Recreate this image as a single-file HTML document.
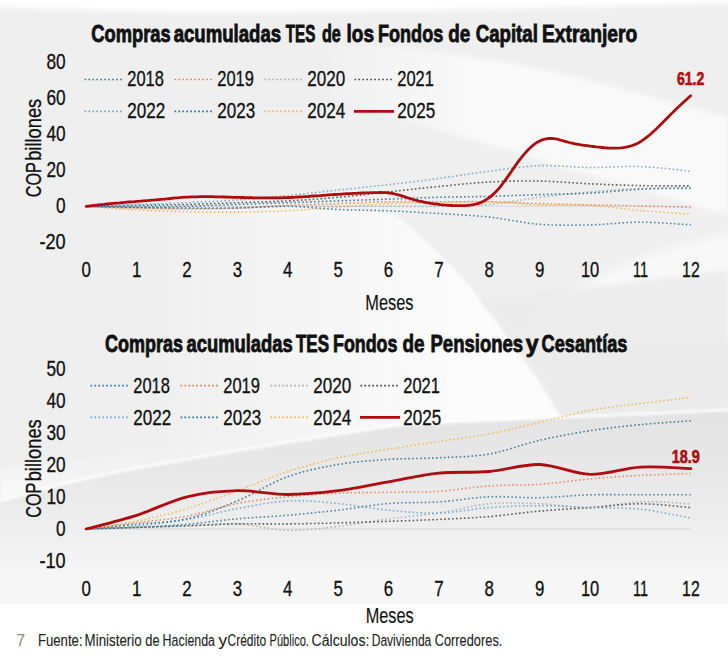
<!DOCTYPE html>
<html><head><meta charset="utf-8"><style>
html,body{margin:0;padding:0;background:#fff;width:728px;height:660px;overflow:hidden}
svg{display:block}
text{font-family:"Liberation Sans", sans-serif}
</style></head><body>
<svg width="728" height="660" viewBox="0 0 728 660">
<rect x="0" y="0" width="728" height="660" fill="#ffffff"/>
<defs>
<filter id="bl8" x="-20%" y="-20%" width="140%" height="140%"><feGaussianBlur stdDeviation="8"/></filter><filter id="bl3" x="-20%" y="-20%" width="140%" height="140%"><feGaussianBlur stdDeviation="2.5"/></filter><filter id="bl5" x="-20%" y="-20%" width="140%" height="140%"><feGaussianBlur stdDeviation="5"/></filter><filter id="bl1" x="-5%" y="-50%" width="110%" height="200%"><feGaussianBlur stdDeviation="0.8"/></filter>
<linearGradient id="gw1" gradientUnits="userSpaceOnUse" x1="300" y1="0" x2="480" y2="0"><stop offset="0" stop-color="#fff" stop-opacity="0"/><stop offset="1" stop-color="#fff" stop-opacity="0.65"/></linearGradient>
<linearGradient id="gabove" gradientUnits="userSpaceOnUse" x1="0" y1="500" x2="30" y2="380"><stop offset="0" stop-color="#fff" stop-opacity="0.7"/><stop offset="0.35" stop-color="#fff" stop-opacity="0.25"/><stop offset="1" stop-color="#fff" stop-opacity="0"/></linearGradient>
<linearGradient id="gtop" x1="0" y1="0" x2="0" y2="1"><stop offset="0" stop-color="#fff"/><stop offset="1" stop-color="#fff" stop-opacity="0"/></linearGradient>
<linearGradient id="gsw" gradientUnits="userSpaceOnUse" x1="0" y1="420" x2="0" y2="604"><stop offset="0" stop-color="#e4e4e4"/><stop offset="0.45" stop-color="#ebebeb"/><stop offset="0.72" stop-color="#f2f2f2"/><stop offset="0.85" stop-color="#f7f7f7"/><stop offset="1" stop-color="#f6f6f6"/></linearGradient>
<linearGradient id="gwedge" gradientUnits="userSpaceOnUse" x1="150" y1="0" x2="470" y2="0"><stop offset="0" stop-color="#fff" stop-opacity="0"/><stop offset="1" stop-color="#fff" stop-opacity="0.8"/></linearGradient>
</defs>
<rect x="0" y="0" width="728" height="604" fill="#efefef"/>
<path d="M-10,-10 L738,-10 L738,3 C600,6 350,14 180,12 C100,11 40,8 -10,7 Z" fill="#fff" filter="url(#bl3)"/>
<path d="M330,44 C420,50 480,56 540,69 C600,82 660,100 728,117 L728,215 C600,180 450,130 330,100 Z" fill="url(#gw1)" filter="url(#bl3)"/>
<path d="M515,340 C560,290 630,252 740,232 L740,340 Z" fill="#fff" opacity="0.6" filter="url(#bl5)"/>
<path d="M150,200 C250,200 330,205 395,215 C440,250 470,285 480,300 C500,325 545,385 563,420 C450,430 300,460 150,490 Z" fill="url(#gwedge)" filter="url(#bl1)"/>
<path d="M563,420 C545,385 500,325 480,300 C560,290 650,280 728,270 L728,430 Z" fill="#ebebeb" opacity="0.8" filter="url(#bl3)"/>
<path d="M0,501 C60,484 120,470 160,464 C230,452 320,436 400,425 C480,420 600,416 728,410 L728,380 L0,470 Z" fill="url(#gabove)" filter="url(#bl3)"/>
<path d="M0,501 C60,484 120,470 160,464 C230,452 320,436 400,425 C480,420 600,416 728,410 L728,604 L0,604 Z" fill="url(#gsw)"/>
<path d="M0,501 C60,484 120,470 160,464 C230,452 320,436 400,425 C480,420 600,416 728,410" fill="none" stroke="#fff" stroke-width="3" opacity="0.8" filter="url(#bl1)"/>
<text x="91.3" y="41.8" font-size="23.8" text-anchor="start" font-weight="bold" fill="#111" stroke="#111" stroke-width="0.85" textLength="79.4" lengthAdjust="spacingAndGlyphs" >Compras</text>
<text x="173.7" y="41.8" font-size="23.8" text-anchor="start" font-weight="bold" fill="#111" stroke="#111" stroke-width="0.85" textLength="107.41" lengthAdjust="spacingAndGlyphs" >acumuladas</text>
<text x="285.7" y="41.8" font-size="23.8" text-anchor="start" font-weight="bold" fill="#111" stroke="#111" stroke-width="0.85" textLength="29.62" lengthAdjust="spacingAndGlyphs" >TES</text>
<text x="322.0" y="41.8" font-size="23.8" text-anchor="start" font-weight="bold" fill="#111" stroke="#111" stroke-width="0.85" textLength="18.82" lengthAdjust="spacingAndGlyphs" >de</text>
<text x="346.5" y="41.8" font-size="23.8" text-anchor="start" font-weight="bold" fill="#111" stroke="#111" stroke-width="0.85" textLength="27.46" lengthAdjust="spacingAndGlyphs" >los</text>
<text x="378.0" y="41.8" font-size="23.8" text-anchor="start" font-weight="bold" fill="#111" stroke="#111" stroke-width="0.85" textLength="65.22" lengthAdjust="spacingAndGlyphs" >Fondos</text>
<text x="448.2" y="41.8" font-size="23.8" text-anchor="start" font-weight="bold" fill="#111" stroke="#111" stroke-width="0.85" textLength="22.0" lengthAdjust="spacingAndGlyphs" >de</text>
<text x="475.7" y="41.8" font-size="23.8" text-anchor="start" font-weight="bold" fill="#111" stroke="#111" stroke-width="0.85" textLength="62.21" lengthAdjust="spacingAndGlyphs" >Capital</text>
<text x="542.0" y="41.8" font-size="23.8" text-anchor="start" font-weight="bold" fill="#111" stroke="#111" stroke-width="0.85" textLength="95.22" lengthAdjust="spacingAndGlyphs" >Extranjero</text>
<text x="104.9" y="351.5" font-size="23.8" text-anchor="start" font-weight="bold" fill="#111" stroke="#111" stroke-width="0.85" textLength="78.01" lengthAdjust="spacingAndGlyphs" >Compras</text>
<text x="186.5" y="351.5" font-size="23.8" text-anchor="start" font-weight="bold" fill="#111" stroke="#111" stroke-width="0.85" textLength="106.2" lengthAdjust="spacingAndGlyphs" >acumuladas</text>
<text x="296.0" y="351.5" font-size="23.8" text-anchor="start" font-weight="bold" fill="#111" stroke="#111" stroke-width="0.85" textLength="33.02" lengthAdjust="spacingAndGlyphs" >TES</text>
<text x="333.0" y="351.5" font-size="23.8" text-anchor="start" font-weight="bold" fill="#111" stroke="#111" stroke-width="0.85" textLength="64.42" lengthAdjust="spacingAndGlyphs" >Fondos</text>
<text x="402.6" y="351.5" font-size="23.8" text-anchor="start" font-weight="bold" fill="#111" stroke="#111" stroke-width="0.85" textLength="22.0" lengthAdjust="spacingAndGlyphs" >de</text>
<text x="430.5" y="351.5" font-size="23.8" text-anchor="start" font-weight="bold" fill="#111" stroke="#111" stroke-width="0.85" textLength="92.63" lengthAdjust="spacingAndGlyphs" >Pensiones</text>
<text x="525.7" y="351.5" font-size="23.8" text-anchor="start" font-weight="bold" fill="#111" stroke="#111" stroke-width="0.85" textLength="12.83" lengthAdjust="spacingAndGlyphs" >y</text>
<text x="541.6" y="351.5" font-size="23.8" text-anchor="start" font-weight="bold" fill="#111" stroke="#111" stroke-width="0.85" textLength="85.8" lengthAdjust="spacingAndGlyphs" >Cesant&#237;as</text>
<text x="65.6" y="68.90000000000002" font-size="21.9" text-anchor="end" font-weight="normal" fill="#111" stroke="#111" stroke-width="0.33" textLength="19.2" lengthAdjust="spacingAndGlyphs" >80</text>
<text x="65.6" y="104.95" font-size="21.9" text-anchor="end" font-weight="normal" fill="#111" stroke="#111" stroke-width="0.33" textLength="19.2" lengthAdjust="spacingAndGlyphs" >60</text>
<text x="65.6" y="141.00000000000003" font-size="21.9" text-anchor="end" font-weight="normal" fill="#111" stroke="#111" stroke-width="0.33" textLength="19.2" lengthAdjust="spacingAndGlyphs" >40</text>
<text x="65.6" y="177.05" font-size="21.9" text-anchor="end" font-weight="normal" fill="#111" stroke="#111" stroke-width="0.33" textLength="19.2" lengthAdjust="spacingAndGlyphs" >20</text>
<text x="65.6" y="213.10000000000002" font-size="21.9" text-anchor="end" font-weight="normal" fill="#111" stroke="#111" stroke-width="0.33" textLength="9.6" lengthAdjust="spacingAndGlyphs" >0</text>
<text x="65.6" y="249.15000000000003" font-size="21.9" text-anchor="end" font-weight="normal" fill="#111" stroke="#111" stroke-width="0.33" textLength="26.2" lengthAdjust="spacingAndGlyphs" >-20</text>
<text x="65.6" y="376.2" font-size="21.9" text-anchor="end" font-weight="normal" fill="#111" stroke="#111" stroke-width="0.33" textLength="19.2" lengthAdjust="spacingAndGlyphs" >50</text>
<text x="65.6" y="408.12" font-size="21.9" text-anchor="end" font-weight="normal" fill="#111" stroke="#111" stroke-width="0.33" textLength="19.2" lengthAdjust="spacingAndGlyphs" >40</text>
<text x="65.6" y="440.04" font-size="21.9" text-anchor="end" font-weight="normal" fill="#111" stroke="#111" stroke-width="0.33" textLength="19.2" lengthAdjust="spacingAndGlyphs" >30</text>
<text x="65.6" y="471.96" font-size="21.9" text-anchor="end" font-weight="normal" fill="#111" stroke="#111" stroke-width="0.33" textLength="19.2" lengthAdjust="spacingAndGlyphs" >20</text>
<text x="65.6" y="503.88" font-size="21.9" text-anchor="end" font-weight="normal" fill="#111" stroke="#111" stroke-width="0.33" textLength="19.2" lengthAdjust="spacingAndGlyphs" >10</text>
<text x="65.6" y="535.8" font-size="21.9" text-anchor="end" font-weight="normal" fill="#111" stroke="#111" stroke-width="0.33" textLength="9.6" lengthAdjust="spacingAndGlyphs" >0</text>
<text x="65.6" y="567.7199999999999" font-size="21.9" text-anchor="end" font-weight="normal" fill="#111" stroke="#111" stroke-width="0.33" textLength="26.2" lengthAdjust="spacingAndGlyphs" >-10</text>
<text x="86.2" y="277.0" font-size="21.9" text-anchor="middle" font-weight="normal" fill="#111" stroke="#111" stroke-width="0.33" textLength="9.4" lengthAdjust="spacingAndGlyphs" >0</text>
<text x="136.6" y="277.0" font-size="21.9" text-anchor="middle" font-weight="normal" fill="#111" stroke="#111" stroke-width="0.33" textLength="9.4" lengthAdjust="spacingAndGlyphs" >1</text>
<text x="187.0" y="277.0" font-size="21.9" text-anchor="middle" font-weight="normal" fill="#111" stroke="#111" stroke-width="0.33" textLength="9.4" lengthAdjust="spacingAndGlyphs" >2</text>
<text x="237.4" y="277.0" font-size="21.9" text-anchor="middle" font-weight="normal" fill="#111" stroke="#111" stroke-width="0.33" textLength="9.4" lengthAdjust="spacingAndGlyphs" >3</text>
<text x="287.8" y="277.0" font-size="21.9" text-anchor="middle" font-weight="normal" fill="#111" stroke="#111" stroke-width="0.33" textLength="9.4" lengthAdjust="spacingAndGlyphs" >4</text>
<text x="338.1" y="277.0" font-size="21.9" text-anchor="middle" font-weight="normal" fill="#111" stroke="#111" stroke-width="0.33" textLength="9.4" lengthAdjust="spacingAndGlyphs" >5</text>
<text x="388.5" y="277.0" font-size="21.9" text-anchor="middle" font-weight="normal" fill="#111" stroke="#111" stroke-width="0.33" textLength="9.4" lengthAdjust="spacingAndGlyphs" >6</text>
<text x="438.9" y="277.0" font-size="21.9" text-anchor="middle" font-weight="normal" fill="#111" stroke="#111" stroke-width="0.33" textLength="9.4" lengthAdjust="spacingAndGlyphs" >7</text>
<text x="489.3" y="277.0" font-size="21.9" text-anchor="middle" font-weight="normal" fill="#111" stroke="#111" stroke-width="0.33" textLength="9.4" lengthAdjust="spacingAndGlyphs" >8</text>
<text x="539.7" y="277.0" font-size="21.9" text-anchor="middle" font-weight="normal" fill="#111" stroke="#111" stroke-width="0.33" textLength="9.4" lengthAdjust="spacingAndGlyphs" >9</text>
<text x="590.1" y="277.0" font-size="21.9" text-anchor="middle" font-weight="normal" fill="#111" stroke="#111" stroke-width="0.33" textLength="18.3" lengthAdjust="spacingAndGlyphs" >10</text>
<text x="640.5" y="277.0" font-size="21.9" text-anchor="middle" font-weight="normal" fill="#111" stroke="#111" stroke-width="0.33" textLength="15" lengthAdjust="spacingAndGlyphs" >11</text>
<text x="690.9" y="277.0" font-size="21.9" text-anchor="middle" font-weight="normal" fill="#111" stroke="#111" stroke-width="0.33" textLength="17.6" lengthAdjust="spacingAndGlyphs" >12</text>
<text x="86.2" y="595.7" font-size="21.9" text-anchor="middle" font-weight="normal" fill="#111" stroke="#111" stroke-width="0.33" textLength="9.4" lengthAdjust="spacingAndGlyphs" >0</text>
<text x="136.6" y="595.7" font-size="21.9" text-anchor="middle" font-weight="normal" fill="#111" stroke="#111" stroke-width="0.33" textLength="9.4" lengthAdjust="spacingAndGlyphs" >1</text>
<text x="187.0" y="595.7" font-size="21.9" text-anchor="middle" font-weight="normal" fill="#111" stroke="#111" stroke-width="0.33" textLength="9.4" lengthAdjust="spacingAndGlyphs" >2</text>
<text x="237.4" y="595.7" font-size="21.9" text-anchor="middle" font-weight="normal" fill="#111" stroke="#111" stroke-width="0.33" textLength="9.4" lengthAdjust="spacingAndGlyphs" >3</text>
<text x="287.8" y="595.7" font-size="21.9" text-anchor="middle" font-weight="normal" fill="#111" stroke="#111" stroke-width="0.33" textLength="9.4" lengthAdjust="spacingAndGlyphs" >4</text>
<text x="338.1" y="595.7" font-size="21.9" text-anchor="middle" font-weight="normal" fill="#111" stroke="#111" stroke-width="0.33" textLength="9.4" lengthAdjust="spacingAndGlyphs" >5</text>
<text x="388.5" y="595.7" font-size="21.9" text-anchor="middle" font-weight="normal" fill="#111" stroke="#111" stroke-width="0.33" textLength="9.4" lengthAdjust="spacingAndGlyphs" >6</text>
<text x="438.9" y="595.7" font-size="21.9" text-anchor="middle" font-weight="normal" fill="#111" stroke="#111" stroke-width="0.33" textLength="9.4" lengthAdjust="spacingAndGlyphs" >7</text>
<text x="489.3" y="595.7" font-size="21.9" text-anchor="middle" font-weight="normal" fill="#111" stroke="#111" stroke-width="0.33" textLength="9.4" lengthAdjust="spacingAndGlyphs" >8</text>
<text x="539.7" y="595.7" font-size="21.9" text-anchor="middle" font-weight="normal" fill="#111" stroke="#111" stroke-width="0.33" textLength="9.4" lengthAdjust="spacingAndGlyphs" >9</text>
<text x="590.1" y="595.7" font-size="21.9" text-anchor="middle" font-weight="normal" fill="#111" stroke="#111" stroke-width="0.33" textLength="18.3" lengthAdjust="spacingAndGlyphs" >10</text>
<text x="640.5" y="595.7" font-size="21.9" text-anchor="middle" font-weight="normal" fill="#111" stroke="#111" stroke-width="0.33" textLength="15" lengthAdjust="spacingAndGlyphs" >11</text>
<text x="690.9" y="595.7" font-size="21.9" text-anchor="middle" font-weight="normal" fill="#111" stroke="#111" stroke-width="0.33" textLength="17.6" lengthAdjust="spacingAndGlyphs" >12</text>
<text x="365.3" y="309.9" font-size="22.5" text-anchor="start" font-weight="normal" fill="#111" stroke="#111" stroke-width="0.15" textLength="48.26" lengthAdjust="spacingAndGlyphs" >Meses</text>
<text x="365.7" y="622.5" font-size="21.5" text-anchor="start" font-weight="normal" fill="#111" stroke="#111" stroke-width="0.15" textLength="48.06" lengthAdjust="spacingAndGlyphs" >Meses</text>
<g transform="translate(40.8,200) rotate(-90)"><text x="2.7" y="0" font-size="22" text-anchor="start" font-weight="normal" fill="#111" stroke="#111" stroke-width="0.33" textLength="35.13" lengthAdjust="spacingAndGlyphs" >COP</text><text x="39.2" y="0" font-size="22" text-anchor="start" font-weight="normal" fill="#111" stroke="#111" stroke-width="0.33" textLength="62.03" lengthAdjust="spacingAndGlyphs" >billones</text></g>
<g transform="translate(41.2,520) rotate(-90)"><text x="2.2" y="0" font-size="22" text-anchor="start" font-weight="normal" fill="#111" stroke="#111" stroke-width="0.33" textLength="35.13" lengthAdjust="spacingAndGlyphs" >COP</text><text x="38.7" y="0" font-size="22" text-anchor="start" font-weight="normal" fill="#111" stroke="#111" stroke-width="0.33" textLength="62.03" lengthAdjust="spacingAndGlyphs" >billones</text></g>
<line x1="84.5" y1="79.5" x2="124" y2="79.5" stroke="#3b7ea1" stroke-width="1.7" stroke-dasharray="1.7 2.25"/>
<text x="127.3" y="86.0" font-size="21.9" text-anchor="start" font-weight="normal" fill="#111" stroke="#111" stroke-width="0.33" textLength="36.6" lengthAdjust="spacingAndGlyphs" >2018</text>
<line x1="174.5" y1="79.5" x2="214" y2="79.5" stroke="#e9825a" stroke-width="1.7" stroke-dasharray="1.7 2.25"/>
<text x="217.3" y="86.0" font-size="21.9" text-anchor="start" font-weight="normal" fill="#111" stroke="#111" stroke-width="0.33" textLength="36.6" lengthAdjust="spacingAndGlyphs" >2019</text>
<line x1="264.5" y1="79.5" x2="304" y2="79.5" stroke="#a9b0b6" stroke-width="1.7" stroke-dasharray="1.7 2.25"/>
<text x="307.3" y="86.0" font-size="21.9" text-anchor="start" font-weight="normal" fill="#111" stroke="#111" stroke-width="0.33" textLength="38" lengthAdjust="spacingAndGlyphs" >2020</text>
<line x1="354.5" y1="79.5" x2="394" y2="79.5" stroke="#4a4a4a" stroke-width="1.7" stroke-dasharray="1.7 2.25"/>
<text x="397.3" y="86.0" font-size="21.9" text-anchor="start" font-weight="normal" fill="#111" stroke="#111" stroke-width="0.33" textLength="36.6" lengthAdjust="spacingAndGlyphs" >2021</text>
<line x1="84.5" y1="111.4" x2="124" y2="111.4" stroke="#6fa9c9" stroke-width="1.7" stroke-dasharray="1.7 2.25"/>
<text x="127.3" y="117.9" font-size="21.9" text-anchor="start" font-weight="normal" fill="#111" stroke="#111" stroke-width="0.33" textLength="38" lengthAdjust="spacingAndGlyphs" >2022</text>
<line x1="174.5" y1="111.4" x2="214" y2="111.4" stroke="#2f7396" stroke-width="1.7" stroke-dasharray="1.7 2.25"/>
<text x="217.3" y="117.9" font-size="21.9" text-anchor="start" font-weight="normal" fill="#111" stroke="#111" stroke-width="0.33" textLength="38" lengthAdjust="spacingAndGlyphs" >2023</text>
<line x1="264.5" y1="111.4" x2="304" y2="111.4" stroke="#f2b94b" stroke-width="1.7" stroke-dasharray="1.7 2.25"/>
<text x="307.3" y="117.9" font-size="21.9" text-anchor="start" font-weight="normal" fill="#111" stroke="#111" stroke-width="0.33" textLength="38" lengthAdjust="spacingAndGlyphs" >2024</text>
<line x1="354" y1="111.4" x2="394" y2="111.4" stroke="#b00c10" stroke-width="2.8"/>
<text x="397.3" y="117.9" font-size="21.9" text-anchor="start" font-weight="normal" fill="#111" stroke="#111" stroke-width="0.33" textLength="38" lengthAdjust="spacingAndGlyphs" >2025</text>
<line x1="90.5" y1="385.6" x2="130" y2="385.6" stroke="#3b7ea1" stroke-width="1.7" stroke-dasharray="1.7 2.25"/>
<text x="133.3" y="392.8" font-size="21.9" text-anchor="start" font-weight="normal" fill="#111" stroke="#111" stroke-width="0.33" textLength="36.6" lengthAdjust="spacingAndGlyphs" >2018</text>
<line x1="180.5" y1="385.6" x2="220" y2="385.6" stroke="#e9825a" stroke-width="1.7" stroke-dasharray="1.7 2.25"/>
<text x="223.3" y="392.8" font-size="21.9" text-anchor="start" font-weight="normal" fill="#111" stroke="#111" stroke-width="0.33" textLength="36.6" lengthAdjust="spacingAndGlyphs" >2019</text>
<line x1="270.5" y1="385.6" x2="310" y2="385.6" stroke="#a9b0b6" stroke-width="1.7" stroke-dasharray="1.7 2.25"/>
<text x="313.3" y="392.8" font-size="21.9" text-anchor="start" font-weight="normal" fill="#111" stroke="#111" stroke-width="0.33" textLength="38" lengthAdjust="spacingAndGlyphs" >2020</text>
<line x1="360.5" y1="385.6" x2="400" y2="385.6" stroke="#4a4a4a" stroke-width="1.7" stroke-dasharray="1.7 2.25"/>
<text x="403.3" y="392.8" font-size="21.9" text-anchor="start" font-weight="normal" fill="#111" stroke="#111" stroke-width="0.33" textLength="36.6" lengthAdjust="spacingAndGlyphs" >2021</text>
<line x1="90.5" y1="417.3" x2="130" y2="417.3" stroke="#6fa9c9" stroke-width="1.7" stroke-dasharray="1.7 2.25"/>
<text x="133.3" y="424.5" font-size="21.9" text-anchor="start" font-weight="normal" fill="#111" stroke="#111" stroke-width="0.33" textLength="38" lengthAdjust="spacingAndGlyphs" >2022</text>
<line x1="180.5" y1="417.3" x2="220" y2="417.3" stroke="#2f7396" stroke-width="1.7" stroke-dasharray="1.7 2.25"/>
<text x="223.3" y="424.5" font-size="21.9" text-anchor="start" font-weight="normal" fill="#111" stroke="#111" stroke-width="0.33" textLength="38" lengthAdjust="spacingAndGlyphs" >2023</text>
<line x1="270.5" y1="417.3" x2="310" y2="417.3" stroke="#f2b94b" stroke-width="1.7" stroke-dasharray="1.7 2.25"/>
<text x="313.3" y="424.5" font-size="21.9" text-anchor="start" font-weight="normal" fill="#111" stroke="#111" stroke-width="0.33" textLength="38" lengthAdjust="spacingAndGlyphs" >2024</text>
<line x1="360" y1="417.3" x2="400" y2="417.3" stroke="#b00c10" stroke-width="2.8"/>
<text x="403.3" y="424.5" font-size="21.9" text-anchor="start" font-weight="normal" fill="#111" stroke="#111" stroke-width="0.33" textLength="38" lengthAdjust="spacingAndGlyphs" >2025</text>
<line x1="86" y1="206.3" x2="691" y2="206.3" stroke="#dcdcdc" stroke-width="1.2"/>
<line x1="86" y1="529.0" x2="691" y2="529.0" stroke="#d6d6d6" stroke-width="1.2"/>
<path d="M86.2,206.3 C94.6,206.6 119.8,207.8 136.6,208.1 C153.4,208.4 170.2,208.3 187.0,208.1 C203.8,208.0 220.6,207.5 237.4,207.2 C254.2,206.9 271.0,206.5 287.8,206.3 C304.6,206.1 321.4,206.3 338.1,206.3 C354.9,206.3 371.7,206.3 388.5,206.3 C405.3,206.3 422.1,206.6 438.9,206.3 C455.7,206.0 472.5,206.0 489.3,204.5 C506.1,203.0 522.9,199.4 539.7,197.3 C556.5,195.2 573.3,193.4 590.1,191.9 C606.9,190.4 623.7,189.0 640.5,188.3 C657.3,187.5 682.5,187.5 690.9,187.4" fill="none" stroke="#a9b0b6" stroke-width="1.6" stroke-dasharray="1.6 2.35" stroke-dashoffset="0.00" opacity="0.9"/>
<path d="M86.2,206.3 C94.6,206.6 119.8,207.7 136.6,208.1 C153.4,208.6 170.2,209.0 187.0,209.0 C203.8,209.0 220.6,208.7 237.4,208.1 C254.2,207.5 271.0,206.1 287.8,205.4 C304.6,204.6 321.4,204.2 338.1,203.6 C354.9,203.0 371.7,202.1 388.5,201.8 C405.3,201.5 422.1,201.8 438.9,201.8 C455.7,201.8 472.5,201.5 489.3,201.8 C506.1,202.1 522.9,203.1 539.7,203.6 C556.5,204.1 573.3,204.6 590.1,205.0 C606.9,205.4 623.7,205.5 640.5,205.9 C657.3,206.3 682.5,207.1 690.9,207.4" fill="none" stroke="#e9825a" stroke-width="1.6" stroke-dasharray="1.6 2.35" stroke-dashoffset="1.30" opacity="0.9"/>
<path d="M86.2,206.3 C94.6,206.9 119.8,209.0 136.6,209.9 C153.4,210.8 170.2,211.3 187.0,211.7 C203.8,212.1 220.6,212.2 237.4,212.1 C254.2,211.9 271.0,211.6 287.8,210.8 C304.6,210.0 321.4,208.4 338.1,207.2 C354.9,206.0 371.7,204.3 388.5,203.6 C405.3,202.8 422.1,203.0 438.9,202.7 C455.7,202.4 472.5,201.4 489.3,201.8 C506.1,202.2 522.9,204.4 539.7,205.0 C556.5,205.6 573.3,204.5 590.1,205.4 C606.9,206.3 623.7,209.2 640.5,210.6 C657.3,212.1 682.5,213.5 690.9,214.1" fill="none" stroke="#f2b94b" stroke-width="1.6" stroke-dasharray="1.6 2.35" stroke-dashoffset="2.60" opacity="0.9"/>
<path d="M86.2,206.3 C94.6,206.5 119.8,206.9 136.6,207.2 C153.4,207.5 170.2,208.0 187.0,208.1 C203.8,208.3 220.6,208.4 237.4,208.1 C254.2,207.8 271.0,206.1 287.8,206.3 C304.6,206.5 321.4,208.8 338.1,209.5 C354.9,210.3 371.7,210.1 388.5,210.8 C405.3,211.5 422.1,212.5 438.9,213.5 C455.7,214.6 472.5,215.3 489.3,217.1 C506.1,218.9 522.9,223.0 539.7,224.3 C556.5,225.6 573.3,225.2 590.1,224.9 C606.9,224.5 623.7,222.2 640.5,222.2 C657.3,222.2 682.5,224.4 690.9,224.9" fill="none" stroke="#3b7ea1" stroke-width="1.6" stroke-dasharray="1.6 2.35" stroke-dashoffset="3.90" opacity="0.9"/>
<path d="M86.2,206.3 C94.6,206.5 119.8,207.2 136.6,207.2 C153.4,207.2 170.2,206.8 187.0,206.3 C203.8,205.8 220.6,205.1 237.4,204.5 C254.2,203.9 271.0,203.3 287.8,202.7 C304.6,202.1 321.4,201.5 338.1,200.9 C354.9,200.3 371.7,199.7 388.5,199.1 C405.3,198.5 422.1,197.7 438.9,197.3 C455.7,196.8 472.5,196.8 489.3,196.4 C506.1,195.9 522.9,195.1 539.7,194.6 C556.5,194.0 573.3,194.0 590.1,193.1 C606.9,192.2 623.7,190.0 640.5,189.2 C657.3,188.4 682.5,188.4 690.9,188.3" fill="none" stroke="#2f7396" stroke-width="1.6" stroke-dasharray="1.6 2.35" stroke-dashoffset="1.25" opacity="0.9"/>
<path d="M86.2,206.3 C94.6,206.1 119.8,205.7 136.6,205.4 C153.4,205.1 170.2,204.9 187.0,204.5 C203.8,204.0 220.6,203.3 237.4,202.7 C254.2,202.1 271.0,201.8 287.8,200.9 C304.6,200.0 321.4,198.8 338.1,197.3 C354.9,195.8 371.7,193.7 388.5,191.9 C405.3,190.1 422.1,188.1 438.9,186.5 C455.7,184.8 472.5,182.9 489.3,182.0 C506.1,181.1 522.9,180.8 539.7,181.1 C556.5,181.4 573.3,183.0 590.1,183.8 C606.9,184.5 623.7,185.2 640.5,185.6 C657.3,185.9 682.5,185.9 690.9,185.9" fill="none" stroke="#4a4a4a" stroke-width="1.6" stroke-dasharray="1.6 2.35" stroke-dashoffset="2.55" opacity="0.9"/>
<path d="M86.2,206.3 C94.6,206.0 119.8,205.1 136.6,204.5 C153.4,203.9 170.2,203.4 187.0,202.7 C203.8,201.9 220.6,201.2 237.4,200.0 C254.2,198.8 271.0,197.1 287.8,195.5 C304.6,193.8 321.4,191.9 338.1,190.1 C354.9,188.3 371.7,186.6 388.5,184.7 C405.3,182.7 422.1,180.6 438.9,178.4 C455.7,176.1 472.5,173.3 489.3,171.2 C506.1,169.0 522.9,166.3 539.7,165.7 C556.5,165.1 573.3,167.4 590.1,167.5 C606.9,167.7 623.7,166.0 640.5,166.6 C657.3,167.2 682.5,170.4 690.9,171.2" fill="none" stroke="#6fa9c9" stroke-width="1.6" stroke-dasharray="1.6 2.35" stroke-dashoffset="3.85" opacity="0.9"/>
<path d="M86.2,529.0 C94.6,528.7 119.8,527.9 136.6,527.4 C153.4,526.9 170.2,526.4 187.0,525.8 C203.8,525.2 220.6,523.1 237.4,523.9 C254.2,524.6 271.0,529.9 287.8,530.3 C304.6,530.7 321.4,528.4 338.1,526.4 C354.9,524.5 371.7,521.0 388.5,518.8 C405.3,516.6 422.1,515.5 438.9,513.0 C455.7,510.5 472.5,505.3 489.3,503.8 C506.1,502.2 522.9,503.1 539.7,503.8 C556.5,504.4 573.3,507.9 590.1,507.6 C606.9,507.3 623.7,502.5 640.5,501.9 C657.3,501.2 682.5,503.5 690.9,503.8" fill="none" stroke="#a9b0b6" stroke-width="1.6" stroke-dasharray="1.6 2.35" stroke-dashoffset="0.00" opacity="0.9"/>
<path d="M86.2,529.0 C94.6,528.7 119.8,527.9 136.6,527.4 C153.4,526.9 170.2,526.4 187.0,525.8 C203.8,525.2 220.6,524.2 237.4,523.9 C254.2,523.6 271.0,524.1 287.8,523.9 C304.6,523.7 321.4,523.4 338.1,522.9 C354.9,522.5 371.7,521.9 388.5,521.3 C405.3,520.8 422.1,520.2 438.9,519.4 C455.7,518.6 472.5,517.9 489.3,516.6 C506.1,515.2 522.9,512.6 539.7,511.1 C556.5,509.6 573.3,508.8 590.1,507.6 C606.9,506.4 623.7,503.8 640.5,503.8 C657.3,503.8 682.5,507.0 690.9,507.6" fill="none" stroke="#4a4a4a" stroke-width="1.6" stroke-dasharray="1.6 2.35" stroke-dashoffset="1.30" opacity="0.9"/>
<path d="M86.2,529.0 C94.6,528.5 119.8,527.4 136.6,525.8 C153.4,524.2 170.2,522.3 187.0,519.4 C203.8,516.6 220.6,511.7 237.4,508.6 C254.2,505.5 271.0,501.8 287.8,500.9 C304.6,500.1 321.4,501.9 338.1,503.5 C354.9,505.0 371.7,508.6 388.5,510.2 C405.3,511.8 422.1,513.5 438.9,513.0 C455.7,512.6 472.5,508.8 489.3,507.6 C506.1,506.4 522.9,505.7 539.7,505.7 C556.5,505.7 573.3,507.0 590.1,507.6 C606.9,508.2 623.7,507.5 640.5,509.2 C657.3,511.0 682.5,516.7 690.9,518.1" fill="none" stroke="#6fa9c9" stroke-width="1.6" stroke-dasharray="1.6 2.35" stroke-dashoffset="2.60" opacity="0.9"/>
<path d="M86.2,529.0 C94.6,528.7 119.8,528.2 136.6,527.4 C153.4,526.6 170.2,525.6 187.0,524.2 C203.8,522.8 220.6,520.3 237.4,518.8 C254.2,517.3 271.0,516.7 287.8,515.3 C304.6,513.8 321.4,512.1 338.1,510.2 C354.9,508.2 371.7,504.8 388.5,503.5 C405.3,502.1 422.1,503.0 438.9,501.9 C455.7,500.8 472.5,497.5 489.3,496.8 C506.1,496.1 522.9,498.0 539.7,497.7 C556.5,497.4 573.3,495.3 590.1,494.8 C606.9,494.4 623.7,494.8 640.5,494.8 C657.3,494.8 682.5,494.8 690.9,494.8" fill="none" stroke="#3b7ea1" stroke-width="1.6" stroke-dasharray="1.6 2.35" stroke-dashoffset="3.90" opacity="0.9"/>
<path d="M86.2,529.0 C94.6,527.9 119.8,524.7 136.6,522.6 C153.4,520.5 170.2,519.4 187.0,516.2 C203.8,513.0 220.6,506.7 237.4,503.5 C254.2,500.2 271.0,498.5 287.8,496.8 C304.6,495.1 321.4,494.0 338.1,493.2 C354.9,492.5 371.7,492.6 388.5,492.3 C405.3,492.0 422.1,492.4 438.9,491.3 C455.7,490.3 472.5,487.1 489.3,485.9 C506.1,484.7 522.9,485.5 539.7,484.3 C556.5,483.1 573.3,480.4 590.1,478.9 C606.9,477.4 623.7,476.3 640.5,475.4 C657.3,474.5 682.5,473.8 690.9,473.5" fill="none" stroke="#e9825a" stroke-width="1.6" stroke-dasharray="1.6 2.35" stroke-dashoffset="1.25" opacity="0.9"/>
<path d="M86.2,529.0 C94.6,528.2 119.8,525.9 136.6,524.2 C153.4,522.5 170.2,522.7 187.0,518.8 C203.8,514.9 220.6,507.9 237.4,500.9 C254.2,493.9 271.0,482.7 287.8,476.7 C304.6,470.6 321.4,467.4 338.1,464.5 C354.9,461.6 371.7,460.5 388.5,459.4 C405.3,458.3 422.1,458.7 438.9,457.8 C455.7,456.9 472.5,456.9 489.3,454.0 C506.1,451.1 522.9,444.1 539.7,440.3 C556.5,436.4 573.3,433.3 590.1,430.7 C606.9,428.1 623.7,426.3 640.5,424.6 C657.3,423.0 682.5,421.4 690.9,420.8" fill="none" stroke="#2f7396" stroke-width="1.6" stroke-dasharray="1.6 2.35" stroke-dashoffset="2.55" opacity="0.9"/>
<path d="M86.2,529.0 C94.6,527.7 119.8,524.4 136.6,521.0 C153.4,517.6 170.2,513.6 187.0,508.6 C203.8,503.5 220.6,496.9 237.4,490.7 C254.2,484.5 271.0,477.0 287.8,471.5 C304.6,466.1 321.4,461.5 338.1,457.8 C354.9,454.1 371.7,451.9 388.5,449.2 C405.3,446.5 422.1,444.1 438.9,441.5 C455.7,439.0 472.5,437.1 489.3,433.9 C506.1,430.7 522.9,426.3 539.7,422.4 C556.5,418.5 573.3,413.4 590.1,410.3 C606.9,407.1 623.7,405.7 640.5,403.6 C657.3,401.4 682.5,398.5 690.9,397.5" fill="none" stroke="#f2b94b" stroke-width="1.6" stroke-dasharray="1.6 2.35" stroke-dashoffset="3.85" opacity="0.9"/>
<path d="M86.2,206.3 L89.2,206.0 L92.2,205.6 L95.2,205.3 L98.2,205.0 L101.2,204.7 L104.2,204.4 L107.2,204.0 L110.2,203.7 L113.2,203.4 L116.2,203.1 L119.2,202.9 L122.2,202.6 L125.2,202.3 L128.2,202.0 L131.2,201.8 L134.2,201.6 L137.2,201.3 L140.2,201.1 L143.2,200.8 L146.2,200.6 L149.2,200.4 L152.2,200.1 L155.2,199.9 L158.2,199.6 L161.2,199.3 L164.2,199.1 L167.2,198.8 L170.2,198.5 L173.2,198.2 L176.2,197.9 L179.2,197.7 L182.2,197.4 L185.2,197.2 L188.2,197.1 L191.2,196.9 L194.2,196.8 L197.2,196.8 L200.2,196.7 L203.2,196.7 L206.2,196.7 L209.2,196.7 L212.2,196.7 L215.2,196.8 L218.2,196.9 L221.2,196.9 L224.2,197.0 L227.2,197.1 L230.2,197.2 L233.2,197.3 L236.2,197.3 L239.2,197.4 L242.2,197.5 L245.2,197.6 L248.2,197.7 L251.2,197.7 L254.2,197.8 L257.2,197.8 L260.2,197.9 L263.2,197.9 L266.2,197.9 L269.2,197.9 L272.2,197.9 L275.2,197.9 L278.2,197.8 L281.2,197.8 L284.2,197.7 L287.2,197.6 L290.2,197.5 L293.2,197.4 L296.2,197.2 L299.2,197.0 L302.2,196.9 L305.2,196.7 L308.2,196.5 L311.2,196.2 L314.2,196.0 L317.2,195.8 L320.2,195.6 L323.2,195.3 L326.2,195.1 L329.2,194.9 L332.2,194.7 L335.2,194.5 L338.2,194.3 L341.2,194.1 L344.2,193.9 L347.2,193.7 L350.2,193.6 L353.2,193.4 L356.2,193.3 L359.2,193.1 L362.2,193.0 L365.2,192.9 L368.2,192.8 L371.2,192.7 L374.2,192.7 L377.2,192.6 L380.2,192.5 L383.2,192.6 L386.2,192.7 L389.2,193.0 L392.2,193.4 L395.2,194.0 L398.2,194.8 L401.2,195.7 L404.2,196.7 L407.2,197.7 L410.2,198.6 L413.2,199.5 L416.2,200.3 L419.2,201.1 L422.2,201.7 L425.2,202.3 L428.2,202.9 L431.2,203.4 L434.2,203.8 L437.2,204.2 L440.2,204.6 L443.2,204.9 L446.2,205.1 L449.2,205.3 L452.2,205.5 L455.2,205.6 L458.2,205.7 L461.2,205.6 L464.2,205.6 L467.2,205.4 L470.2,205.1 L473.2,204.7 L476.2,204.0 L479.2,203.1 L482.2,201.9 L485.2,200.3 L488.2,198.4 L491.2,196.1 L494.2,193.4 L497.2,190.3 L500.2,186.8 L503.2,183.0 L506.2,178.9 L509.2,174.6 L512.2,170.2 L515.2,165.9 L518.2,161.7 L521.2,157.8 L524.2,154.1 L527.2,150.7 L530.2,147.7 L533.2,145.1 L536.2,142.9 L539.2,141.2 L542.2,139.9 L545.2,139.0 L548.2,138.5 L551.2,138.5 L554.2,138.7 L557.2,139.2 L560.2,140.0 L563.2,140.8 L566.2,141.7 L569.2,142.5 L572.2,143.2 L575.2,143.9 L578.2,144.4 L581.2,144.9 L584.2,145.3 L587.2,145.7 L590.2,146.1 L593.2,146.5 L596.2,146.9 L599.2,147.2 L602.2,147.5 L605.2,147.8 L608.2,148.0 L611.2,148.1 L614.2,148.2 L617.2,148.1 L620.2,147.9 L623.2,147.6 L626.2,147.1 L629.2,146.4 L632.2,145.5 L635.2,144.4 L638.2,142.9 L641.2,141.2 L644.2,139.2 L647.2,136.9 L650.2,134.5 L653.2,131.8 L656.2,129.0 L659.2,126.1 L662.2,123.1 L665.2,120.0 L668.2,117.0 L671.2,113.9 L674.2,110.9 L677.2,108.0 L680.2,105.2 L683.2,102.4 L686.2,99.7 L689.2,97.0 L690.6,95.7" fill="none" stroke="#b00c10" stroke-width="2.8" stroke-linecap="round"/>
<path d="M86.2,529.0 C94.6,526.7 119.8,520.6 136.6,515.3 C153.4,509.9 170.2,500.9 187.0,496.8 C203.8,492.7 220.6,491.1 237.4,490.7 C254.2,490.3 271.0,494.5 287.8,494.5 C304.6,494.5 321.4,492.8 338.1,490.7 C354.9,488.6 371.7,484.7 388.5,481.8 C405.3,478.8 422.1,474.8 438.9,473.1 C455.7,471.4 472.5,473.0 489.3,471.5 C506.1,470.1 522.9,464.0 539.7,464.5 C556.5,465.0 573.3,474.0 590.1,474.4 C606.9,474.8 623.7,468.0 640.5,467.1 C657.3,466.1 682.5,468.4 690.9,468.7" fill="none" stroke="#b00c10" stroke-width="2.8" stroke-linecap="round"/>
<text x="677" y="85.1" font-size="17.5" text-anchor="start" font-weight="bold" fill="#b00c10" stroke="#b00c10" stroke-width="0.6" textLength="27.3" lengthAdjust="spacingAndGlyphs" >61.2</text>
<text x="671.7" y="463.2" font-size="17.5" text-anchor="start" font-weight="bold" fill="#b00c10" stroke="#b00c10" stroke-width="0.6" textLength="28.2" lengthAdjust="spacingAndGlyphs" >18.9</text>
<text x="16.3" y="646.4" font-size="16.2" text-anchor="start" font-weight="normal" fill="#8a8a8a" stroke="#8a8a8a" stroke-width="0" textLength="8.9" lengthAdjust="spacingAndGlyphs" >7</text>
<text x="37.9" y="646.2" font-size="15.6" text-anchor="start" font-weight="normal" fill="#222" stroke="#222" stroke-width="0.1" textLength="44.68" lengthAdjust="spacingAndGlyphs" >Fuente:</text>
<text x="84.6" y="646.2" font-size="15.6" text-anchor="start" font-weight="normal" fill="#222" stroke="#222" stroke-width="0.1" textLength="57.04" lengthAdjust="spacingAndGlyphs" >Ministerio</text>
<text x="145.3" y="646.2" font-size="15.6" text-anchor="start" font-weight="normal" fill="#222" stroke="#222" stroke-width="0.1" textLength="14.33" lengthAdjust="spacingAndGlyphs" >de</text>
<text x="162.6" y="646.2" font-size="15.6" text-anchor="start" font-weight="normal" fill="#222" stroke="#222" stroke-width="0.1" textLength="52.41" lengthAdjust="spacingAndGlyphs" >Hacienda</text>
<text x="218.5" y="646.2" font-size="15.6" text-anchor="start" font-weight="normal" fill="#222" stroke="#222" stroke-width="0.1" textLength="8.61" lengthAdjust="spacingAndGlyphs" >y</text>
<text x="227.5" y="646.2" font-size="15.6" text-anchor="start" font-weight="normal" fill="#222" stroke="#222" stroke-width="0.1" textLength="38.65" lengthAdjust="spacingAndGlyphs" >Cr&#233;dito</text>
<text x="269.6" y="646.2" font-size="15.6" text-anchor="start" font-weight="normal" fill="#222" stroke="#222" stroke-width="0.1" textLength="39.28" lengthAdjust="spacingAndGlyphs" >P&#250;blico.</text>
<text x="311.6" y="646.2" font-size="15.6" text-anchor="start" font-weight="normal" fill="#222" stroke="#222" stroke-width="0.1" textLength="57.7" lengthAdjust="spacingAndGlyphs" >C&#225;lculos:</text>
<text x="371.7" y="646.2" font-size="15.6" text-anchor="start" font-weight="normal" fill="#222" stroke="#222" stroke-width="0.1" textLength="59.63" lengthAdjust="spacingAndGlyphs" >Davivienda</text>
<text x="434.7" y="646.2" font-size="15.6" text-anchor="start" font-weight="normal" fill="#222" stroke="#222" stroke-width="0.1" textLength="67.69" lengthAdjust="spacingAndGlyphs" >Corredores.</text>
</svg>
</body></html>
